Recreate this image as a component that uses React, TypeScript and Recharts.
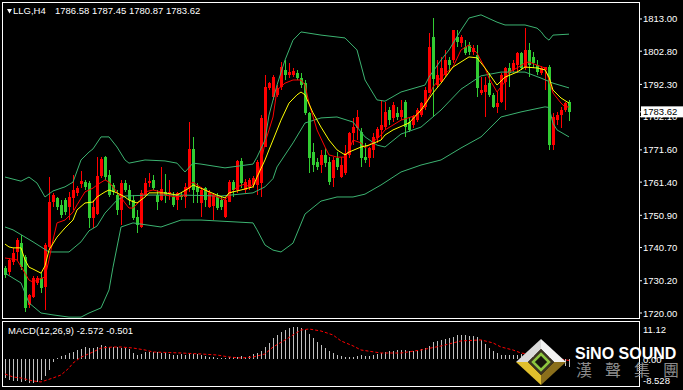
import { Bar, ComposedChart, Line, XAxis, YAxis } from "recharts";

const FONT = '"Liberation Sans", Arial, sans-serif';

// LLG H4 candles (oldest first)
const opens = [
  1734.2, 1733.0, 1736.1, 1739.3, 1742.1, 1737.7, 1722.5, 1725.1, 1729.5, 1731.1,
  1728.2, 1740.9, 1755.1, 1756.4, 1754.2, 1755.7, 1753.5, 1756.4, 1758.0, 1760.8,
  1761.4, 1761.1, 1750.0, 1751.3, 1763.3, 1769.3, 1763.6, 1760.5, 1757.3, 1752.6,
  1761.1, 1758.9, 1755.7, 1750.4, 1747.2, 1757.3, 1761.1, 1762.1, 1757.3, 1755.7,
  1758.3, 1757.6, 1756.7, 1755.7, 1757.3, 1756.7, 1759.5, 1771.9, 1759.9, 1754.8,
  1759.5, 1753.5, 1753.8, 1756.7, 1755.7, 1750.4, 1755.1, 1761.4, 1758.9, 1768.1,
  1758.9, 1759.9, 1760.5, 1760.5, 1761.1, 1772.5, 1791.2, 1788.3, 1789.0, 1791.5,
  1796.9, 1795.3, 1795.3, 1795.9, 1794.3, 1792.7, 1783.3, 1770.9, 1767.8, 1766.8,
  1770.0, 1767.8, 1762.7, 1769.0, 1763.0, 1764.3, 1770.0, 1776.9, 1778.5, 1777.2,
  1769.3, 1769.0, 1771.6, 1775.4, 1777.9, 1778.8, 1784.2, 1781.7, 1783.3, 1782.0,
  1786.7, 1780.4, 1779.5, 1781.0, 1782.6, 1785.2, 1789.6, 1807.3, 1792.1, 1793.1,
  1795.3, 1800.0, 1800.0, 1807.3, 1805.4, 1804.1, 1804.8, 1802.6, 1801.6, 1789.6,
  1789.9, 1792.7, 1789.0, 1785.2, 1786.7, 1793.1, 1797.5, 1796.9, 1798.4, 1802.2,
  1797.5, 1803.2, 1801.0, 1798.4, 1795.9, 1796.9, 1797.8, 1773.1, 1781.0, 1782.6,
  1784.2, 1786.58,
];
const highs = [
  1734.9, 1737.4, 1740.6, 1743.7, 1744.7, 1738.3, 1726.0, 1731.7, 1731.7, 1732.7,
  1742.1, 1763.0, 1758.0, 1756.7, 1755.7, 1756.4, 1758.3, 1763.6, 1760.2, 1764.9,
  1762.1, 1761.7, 1755.7, 1769.3, 1769.3, 1769.7, 1765.2, 1761.1, 1758.9, 1762.1,
  1762.1, 1760.5, 1757.3, 1752.6, 1758.9, 1762.7, 1764.3, 1763.6, 1758.9, 1766.2,
  1764.0, 1762.1, 1758.3, 1758.3, 1758.0, 1761.1, 1780.4, 1775.7, 1761.1, 1759.9,
  1759.9, 1758.9, 1758.0, 1758.0, 1756.7, 1756.7, 1762.1, 1762.1, 1768.4, 1769.0,
  1762.4, 1762.7, 1763.3, 1768.4, 1782.6, 1795.3, 1793.1, 1795.3, 1792.1, 1799.4,
  1800.0, 1799.1, 1797.5, 1796.9, 1795.9, 1793.7, 1783.6, 1773.8, 1769.0, 1771.6,
  1772.2, 1769.3, 1769.3, 1770.9, 1769.3, 1773.1, 1777.2, 1781.7, 1784.2, 1778.5,
  1773.8, 1772.5, 1776.9, 1778.8, 1787.4, 1786.7, 1785.2, 1786.7, 1785.2, 1787.4,
  1787.4, 1782.0, 1782.6, 1784.8, 1786.7, 1791.5, 1808.6, 1813.3, 1800.0, 1801.0,
  1803.2, 1801.0, 1809.5, 1809.5, 1807.9, 1806.3, 1805.7, 1804.8, 1804.8, 1794.6,
  1794.6, 1795.9, 1789.6, 1789.9, 1795.9, 1797.8, 1799.1, 1800.0, 1802.6, 1802.6,
  1810.1, 1805.4, 1802.6, 1800.0, 1798.1, 1797.8, 1798.4, 1783.3, 1783.6, 1785.2,
  1786.7, 1787.45,
];
const lows = [
  1731.1, 1732.0, 1735.2, 1736.8, 1733.6, 1720.3, 1721.6, 1724.7, 1728.9, 1726.3,
  1721.0, 1739.9, 1753.5, 1752.6, 1750.0, 1751.0, 1749.4, 1752.6, 1757.0, 1759.5,
  1758.9, 1746.9, 1746.9, 1751.0, 1762.7, 1762.1, 1756.7, 1757.3, 1751.0, 1747.8,
  1758.3, 1754.2, 1749.4, 1745.3, 1746.9, 1756.7, 1759.9, 1758.9, 1752.6, 1755.4,
  1754.8, 1755.7, 1753.5, 1752.6, 1755.7, 1753.2, 1758.3, 1754.8, 1754.8, 1750.4,
  1753.5, 1753.2, 1749.4, 1752.6, 1752.6, 1750.0, 1755.1, 1756.7, 1758.0, 1759.5,
  1758.0, 1758.9, 1759.5, 1757.3, 1756.7, 1772.5, 1790.5, 1787.4, 1788.3, 1790.5,
  1793.7, 1794.3, 1794.6, 1793.7, 1791.2, 1782.6, 1764.3, 1764.6, 1765.2, 1764.3,
  1766.2, 1760.5, 1759.9, 1765.2, 1762.7, 1763.6, 1769.0, 1773.1, 1774.7, 1766.2,
  1767.4, 1766.2, 1769.0, 1773.8, 1774.7, 1777.9, 1779.5, 1780.4, 1781.0, 1781.0,
  1775.7, 1777.2, 1778.5, 1780.4, 1782.0, 1784.2, 1789.6, 1782.0, 1791.5, 1792.7,
  1794.6, 1796.2, 1799.1, 1804.1, 1804.1, 1801.6, 1801.6, 1801.6, 1788.3, 1789.0,
  1782.0, 1788.3, 1784.8, 1783.3, 1786.4, 1784.2, 1791.5, 1796.2, 1795.9, 1796.9,
  1796.9, 1794.6, 1797.5, 1795.3, 1795.3, 1790.5, 1771.6, 1771.6, 1779.5, 1778.5,
  1783.6, 1780.87,
];
const closes = [
  1732.0, 1736.8, 1739.0, 1743.1, 1734.5, 1721.6, 1725.7, 1731.1, 1731.1, 1727.9,
  1741.5, 1755.1, 1757.3, 1753.5, 1751.0, 1751.9, 1756.7, 1758.9, 1759.5, 1761.7,
  1759.9, 1750.0, 1753.5, 1763.3, 1768.7, 1763.0, 1757.3, 1758.3, 1752.6, 1761.1,
  1758.9, 1755.7, 1750.0, 1747.8, 1758.0, 1761.1, 1761.7, 1759.5, 1755.1, 1759.2,
  1757.3, 1758.3, 1754.2, 1758.0, 1756.7, 1759.9, 1771.9, 1758.9, 1758.3, 1758.9,
  1755.7, 1758.0, 1757.3, 1753.2, 1753.5, 1755.7, 1761.4, 1758.9, 1768.1, 1761.1,
  1761.4, 1762.1, 1762.7, 1767.8, 1781.7, 1791.5, 1792.7, 1794.6, 1791.2, 1797.8,
  1795.3, 1796.2, 1796.5, 1794.3, 1792.1, 1783.3, 1769.0, 1766.8, 1766.2, 1770.0,
  1767.4, 1761.4, 1768.4, 1766.2, 1766.8, 1770.6, 1776.9, 1778.8, 1782.0, 1769.0,
  1768.4, 1772.2, 1775.7, 1778.2, 1779.5, 1783.6, 1781.0, 1785.8, 1782.0, 1784.2,
  1778.8, 1777.9, 1782.0, 1784.2, 1786.4, 1790.5, 1804.1, 1794.0, 1795.3, 1797.5,
  1800.0, 1798.4, 1809.5, 1805.7, 1807.3, 1802.2, 1802.6, 1803.8, 1791.2, 1790.5,
  1792.1, 1789.0, 1785.2, 1786.4, 1795.3, 1797.5, 1795.9, 1799.1, 1802.2, 1797.5,
  1803.2, 1798.4, 1799.1, 1796.2, 1797.5, 1797.8, 1773.1, 1782.0, 1782.6, 1784.2,
  1786.4, 1783.62,
];

// indicator lines, sampled as [bar index, value]
const bbUpper: [number, number][] = [
  [0, 1763.0], [4, 1761.7], [6, 1763.0], [8, 1761.1], [10, 1756.7], [12, 1758.6], [15, 1759.9],
  [17, 1761.4], [19, 1768.4], [21, 1770.9], [22, 1771.9], [24, 1775.7], [26, 1775.7], [28, 1772.5],
  [30, 1768.4], [31, 1767.4], [35, 1768.4], [40, 1768.1], [43, 1767.4], [45, 1764.6], [47, 1767.4],
  [49, 1767.1], [55, 1765.9], [62, 1767.1], [63, 1769.3], [65, 1774.7], [66, 1782.6], [68, 1792.1],
  [70, 1800.0], [72, 1806.3], [74, 1808.9], [79, 1807.9], [83, 1807.3], [85, 1807.0], [88, 1803.2],
  [90, 1793.7], [93, 1787.4], [95, 1787.0], [99, 1789.9], [105, 1792.1], [106, 1794.6], [109, 1800.0],
  [111, 1803.2], [114, 1809.5], [116, 1813.3], [119, 1814.3], [123, 1812.0], [125, 1811.1],
  [130, 1811.1], [133, 1810.1], [134, 1809.0], [135, 1807.3], [136, 1806.3], [137, 1807.9], [141, 1808.2],
];
const bbMiddle: [number, number][] = [
  [0, 1747.2], [2, 1746.3], [7, 1742.5], [11, 1739.3], [16, 1739.3], [19, 1742.5], [21, 1746.0],
  [23, 1747.5], [25, 1751.6], [28, 1755.7], [30, 1757.0], [36, 1757.3], [44, 1757.3], [54, 1757.0],
  [62, 1758.0], [65, 1759.9], [67, 1762.5], [68, 1766.2], [72, 1773.8], [75, 1780.1], [79, 1781.7],
  [83, 1782.0], [87, 1780.4], [90, 1775.7], [93, 1773.1], [95, 1772.5], [99, 1776.6], [104, 1778.8],
  [109, 1784.2], [114, 1790.8], [119, 1795.0], [124, 1796.2], [130, 1796.2], [134, 1794.3],
  [137, 1792.7], [141, 1791.2],
];
const bbLower: [number, number][] = [
  [0, 1732.6], [4, 1729.5], [6, 1723.2], [9, 1720.0], [12, 1719.4], [16, 1718.7], [19, 1718.7],
  [21, 1720.0], [24, 1721.6], [26, 1727.3], [27, 1734.5], [29, 1747.2], [32, 1748.5], [39, 1747.2],
  [44, 1749.4], [49, 1749.4], [62, 1748.5], [63, 1746.3], [65, 1741.5], [67, 1739.9], [69, 1739.3],
  [72, 1742.1], [75, 1751.3], [79, 1755.4], [83, 1756.7], [87, 1756.7], [90, 1757.6], [94, 1760.5],
  [99, 1764.6], [104, 1766.8], [109, 1768.4], [114, 1772.2], [119, 1775.7], [124, 1782.0],
  [129, 1783.6], [135, 1785.2], [136, 1785.0], [137, 1780.0], [138, 1777.9], [141, 1775.7],
];
const maFast: [number, number][] = [
  [0, 1737.4], [3, 1736.8], [5, 1732.6], [6, 1730.4], [7, 1729.8], [8, 1730.4], [10, 1731.4],
  [11, 1736.8], [12, 1743.1], [13, 1748.5], [15, 1749.4], [17, 1751.9], [18, 1754.2], [20, 1758.3],
  [22, 1759.5], [23, 1760.5], [25, 1762.1], [26, 1761.4], [28, 1758.3], [30, 1754.8], [31, 1753.2],
  [32, 1753.2], [34, 1755.7], [35, 1758.3], [37, 1758.9], [39, 1758.3], [40, 1757.3], [43, 1756.7],
  [45, 1757.3], [46, 1760.5], [47, 1761.4], [48, 1760.5], [50, 1758.9], [52, 1757.3], [55, 1755.7],
  [56, 1757.3], [58, 1759.9], [60, 1760.8], [61, 1759.9], [63, 1761.4], [64, 1767.4], [65, 1773.8],
  [67, 1782.0], [68, 1790.5], [70, 1792.7], [72, 1793.7], [74, 1793.7], [75, 1792.1], [76, 1786.4],
  [78, 1777.9], [80, 1772.5], [81, 1770.0], [83, 1769.3], [85, 1769.3], [86, 1771.6], [87, 1774.7],
  [89, 1773.8], [90, 1772.2], [92, 1774.1], [94, 1776.3], [95, 1777.9], [99, 1781.0], [103, 1782.6],
  [105, 1785.2], [107, 1791.5], [109, 1794.6], [112, 1797.8], [114, 1803.2], [116, 1804.8],
  [118, 1802.2], [120, 1797.5], [121, 1794.3], [123, 1789.9], [125, 1793.1], [126, 1796.2],
  [128, 1797.5], [130, 1799.1], [131, 1799.4], [133, 1798.4], [135, 1797.5], [136, 1793.7],
  [137, 1789.6], [139, 1786.4], [140, 1785.2], [141, 1785.2],
];
const maSlow: [number, number][] = [
  [0, 1741.8], [1, 1740.9], [2, 1740.6], [4, 1740.6], [5, 1736.8], [6, 1734.5], [7, 1733.9],
  [9, 1732.6], [10, 1734.9], [11, 1739.9], [13, 1744.0], [15, 1746.9], [17, 1749.4], [18, 1752.6],
  [20, 1754.8], [22, 1755.1], [23, 1756.7], [25, 1758.3], [26, 1758.9], [28, 1758.0], [30, 1756.7],
  [31, 1755.7], [33, 1754.8], [35, 1756.7], [36, 1758.0], [40, 1758.0], [43, 1757.3], [46, 1759.5],
  [47, 1760.5], [50, 1758.9], [53, 1757.3], [55, 1756.4], [56, 1758.0], [59, 1758.9], [62, 1759.9],
  [63, 1763.0], [65, 1768.4], [66, 1771.6], [67, 1774.7], [69, 1781.0], [71, 1786.4], [73, 1789.0],
  [74, 1789.9], [75, 1789.0], [77, 1783.3], [79, 1778.8], [81, 1774.7], [83, 1771.6], [85, 1770.0],
  [86, 1770.9], [89, 1772.5], [91, 1773.1], [94, 1774.7], [95, 1776.3], [97, 1777.9], [101, 1780.1],
  [104, 1784.2], [107, 1789.6], [109, 1792.7], [112, 1797.8], [116, 1801.0], [118, 1800.7],
  [120, 1797.5], [123, 1792.1], [125, 1794.6], [128, 1796.2], [130, 1797.8], [133, 1797.5],
  [135, 1796.9], [136, 1794.6], [137, 1790.5], [139, 1788.0], [141, 1786.4],
];

// MACD(12,26,9): main line per bar (histogram) and signal samples
const macdMain = [
  -5.8, -6.4, -6.7, -6.7, -7.0, -6.7, -7.3, -7.3, -7.0, -6.4,
  -5.2, -3.4, -1.0, 0.2, 0.85, 1.15, 1.75, 2.05, 2.66, 2.96,
  3.56, 3.26, 3.26, 3.56, 4.17, 3.87, 3.56, 3.56, 3.56, 3.26,
  3.26, 2.96, 1.75, 1.15, 1.45, 2.05, 2.05, 2.05, 2.05, 1.75,
  1.75, 1.45, 1.15, 1.15, 1.45, 1.15, 1.75, 1.45, 1.45, 1.15,
  0.85, 0.54, 0.54, 0.24, 0.2, 0.2, 0.54, 0.54, 0.54, 0.85,
  0.54, 0.85, 1.45, 1.75, 2.36, 3.56, 4.77, 6.28, 7.19, 8.1,
  8.7, 9.3, 9.61, 9.61, 9.3, 8.7, 7.49, 6.28, 5.08, 4.17,
  3.26, 2.36, 1.75, 1.15, 0.85, 0.54, 0.54, 0.54, 0.85, 1.15,
  0.85, 0.85, 1.15, 1.45, 1.75, 2.05, 2.36, 2.36, 2.66, 2.66,
  2.66, 2.36, 2.36, 2.66, 2.96, 3.26, 3.87, 5.08, 5.38, 5.68,
  5.98, 6.28, 6.59, 7.19, 7.19, 7.19, 6.89, 6.89, 6.59, 5.68,
  4.47, 3.26, 2.36, 1.75, 1.15, 1.15, 1.15, 1.15, 1.15, 1.45,
  1.45, 1.45, 1.45, 1.15, 1.15, 0.85, 0.85, -0.4, -1.3, -1.9,
  -2.3, -2.572,
];
const macdSignal: [number, number][] = [
  [0, -4.6], [2, -5.5], [4, -5.8], [7, -6.7], [9, -7.0], [12, -5.8], [14, -4.9], [16, -2.8],
  [17, -1.3], [19, 0.5], [22, 2.05], [24, 3.26], [27, 3.56], [29, 3.56], [32, 3.26], [35, 2.66],
  [37, 2.05], [44, 1.75], [49, 1.45], [53, 1.15], [56, 0.54], [59, 0.24], [62, 0.54], [65, 1.45],
  [67, 3.56], [70, 5.67], [72, 7.2], [74, 8.7], [76, 9.0], [79, 8.4], [82, 7.2], [84, 5.4],
  [87, 3.9], [89, 2.66], [94, 1.75], [99, 1.75], [104, 2.66], [109, 3.87], [114, 5.4], [119, 5.7],
  [122, 4.8], [124, 3.56], [127, 2.66], [129, 1.75], [134, 0.85], [141, -0.501],
];

const priceTicks = [1813.0, 1802.8, 1792.3, 1782.1, 1771.6, 1761.4, 1750.9, 1740.7, 1730.2, 1720.0];
const macdTicks = [11.12, 0, -8.528];

const EMPTY_BARS = 17; // free space MT4 leaves right of the last candle
const LAST = closes.length - 1;
const LAST_CLOSE = closes[LAST];

type Row = { i: number; [key: string]: number | undefined };

const rows: Row[] = Array.from({ length: opens.length + EMPTY_BARS }, (_, i) => ({
  i,
  open: opens[i],
  high: highs[i],
  low: lows[i],
  close: closes[i],
  macd: macdMain[i],
}));
const place = (key: string, pts: [number, number][]) =>
  pts.forEach(([i, v]) => {
    rows[i][key] = v;
  });
place("bbU", bbUpper);
place("bbM", bbMiddle);
place("bbL", bbLower);
place("fast", maFast);
place("slow", maSlow);
place("sig", macdSignal);

function Candle(props: any) {
  const { x, y, width, height, payload } = props;
  if (payload.open == null || height == null) return null;
  const { open, high, low, close } = payload;
  const top0 = Math.min(y, y + height);
  const h = Math.abs(height);
  const k = high > low ? h / (high - low) : 0;
  const cx = Math.floor(x + width / 2);
  const color = close >= open ? "#FF0000" : "#32CD32";
  const bodyTop = top0 + (high - Math.max(open, close)) * k;
  const bodyH = Math.max(1, Math.abs(close - open) * k);
  return (
    <g shapeRendering="crispEdges">
      <rect x={cx} y={top0} width={1} height={Math.max(1, h)} fill={color} />
      <rect x={cx - 1} y={bodyTop} width={3} height={bodyH} fill={color} />
    </g>
  );
}

function MacdBar(props: any) {
  const { x, y, width, height } = props;
  if (height == null || isNaN(height)) return null;
  const top = Math.min(y, y + height);
  return (
    <rect
      x={Math.floor(x + width / 2)}
      y={top}
      width={1}
      height={Math.max(1, Math.abs(height))}
      fill="#C0C0C0"
      shapeRendering="crispEdges"
    />
  );
}

function PriceTick(props: any) {
  const { x, y, payload } = props;
  const v: number = payload.value;
  if (v === LAST_CLOSE) {
    return (
      <g>
        <rect x={x - 2} y={y - 5.5} width={44} height={11} fill="#fff" />
        <text x={x} y={y + 3.5} fill="#000" fontSize={9.5} fontFamily={FONT}>
          {v.toFixed(2)}
        </text>
      </g>
    );
  }
  return (
    <text x={x} y={y + 3.5} fill="#fff" fontSize={9.5} fontFamily={FONT}>
      {v.toFixed(2)}
    </text>
  );
}

function MacdTick(props: any) {
  const { x, y, payload } = props;
  const v: number = payload.value;
  // MT4 keeps the max/min labels inside the window
  const dy = v > 0 ? 11 : v < 0 ? -3 : 4;
  return (
    <text x={x} y={y + dy} fill="#fff" fontSize={9.5} fontFamily={FONT}>
      {v === 0 ? "0.00" : String(v)}
    </text>
  );
}

function Watermark() {
  return (
    <svg width={683} height={390} style={{ position: "absolute", left: 0, top: 0, pointerEvents: "none" }}>
      <polygon points="516,362 541,339 541,349 528,362" fill="#d9d9d9" />
      <polygon points="541,339 566,362 554,362 541,349" fill="#f2f2f2" />
      <polygon points="566,362 541,385 541,375 554,362" fill="#8a6f1c" />
      <polygon points="541,385 516,362 528,362 541,375" fill="#e0bf2c" />
      <polygon points="541,349 554,362 541,375 528,362" fill="#3a3320" />
      <polygon points="541,354 549,362 541,370 533,362" fill="#15140c" stroke="#8dc63f" strokeWidth={2.5} />
      <text x={575} y={359} fill="#fff" fontSize={16} fontWeight="bold" fontFamily={FONT}>
        SiNO SOUND
      </text>
      {["漢", "聲", "集", "團"].map((ch, k) => (
        <text key={ch} x={576 + k * 29} y={376} fill="#8c8c8c" fontSize={16} fontFamily='"Noto Sans CJK TC", sans-serif'>
          {ch}
        </text>
      ))}
    </svg>
  );
}

const txt = { position: "absolute" as const, fontSize: 9.5, lineHeight: "11px", whiteSpace: "pre" as const, color: "#fff" };

export default function App() {
  const ohlcText = [opens[LAST], highs[LAST], lows[LAST], closes[LAST]].map((v) => v.toFixed(2)).join(" ");
  const macdText = `MACD(12,26,9) ${macdMain[LAST].toFixed(3)} ${macdSignal[macdSignal.length - 1][1].toFixed(3)}`;
  return (
    <div
      style={{
        position: "fixed",
        left: 0,
        top: 0,
        width: 683,
        height: 390,
        background: "#000",
        overflow: "hidden",
        fontFamily: FONT,
      }}
    >
      <div style={{ position: "absolute", left: 2, top: 2, width: 638, height: 317, border: "1px solid #fff", boxSizing: "border-box" }} />
      <div style={{ position: "absolute", left: 2, top: 321, width: 638, height: 66, border: "1px solid #fff", boxSizing: "border-box" }} />

      <div style={{ position: "absolute", left: 0, top: 0 }}>
        <ComposedChart width={683} height={320} data={rows} margin={{ top: 3, right: 0, bottom: 2, left: 3 }}>
          <XAxis dataKey="i" hide />
          <YAxis
            orientation="right"
            width={44}
            domain={[1718.42, 1818.05]}
            allowDataOverflow
            ticks={[...priceTicks, LAST_CLOSE]}
            interval={0}
            tick={(p: any) => <PriceTick {...p} />}
            tickSize={3}
            tickMargin={1}
            tickLine={{ stroke: "#fff" }}
            axisLine={false}
          />
          <Bar
            dataKey={(d: Row) => (d.high == null ? null : [d.low, d.high])}
            barSize={3}
            shape={(p: any) => <Candle {...p} />}
            isAnimationActive={false}
          />
          <Line dataKey="bbU" stroke="#3CB371" strokeWidth={1} dot={false} activeDot={false} connectNulls isAnimationActive={false} />
          <Line dataKey="bbM" stroke="#3CB371" strokeWidth={1} dot={false} activeDot={false} connectNulls isAnimationActive={false} />
          <Line dataKey="bbL" stroke="#3CB371" strokeWidth={1} dot={false} activeDot={false} connectNulls isAnimationActive={false} />
          <Line dataKey="fast" stroke="#FF0000" strokeWidth={1} dot={false} activeDot={false} connectNulls isAnimationActive={false} />
          <Line dataKey="slow" stroke="#FFFF00" strokeWidth={1} dot={false} activeDot={false} connectNulls isAnimationActive={false} />
        </ComposedChart>
      </div>

      <div style={{ position: "absolute", left: 0, top: 319 }}>
        <ComposedChart width={683} height={71} data={rows} margin={{ top: 3, right: 0, bottom: 3, left: 3 }}>
          <XAxis dataKey="i" hide />
          <YAxis
            orientation="right"
            width={44}
            domain={[-8.528, 11.12]}
            allowDataOverflow
            ticks={macdTicks}
            interval={0}
            tick={(p: any) => <MacdTick {...p} />}
            tickSize={3}
            tickMargin={1}
            tickLine={false}
            axisLine={false}
          />
          <Bar dataKey="macd" barSize={1} shape={(p: any) => <MacdBar {...p} />} isAnimationActive={false} />
          <Line
            dataKey="sig"
            stroke="#FF0000"
            strokeWidth={1}
            strokeDasharray="3 2"
            dot={false}
            activeDot={false}
            connectNulls
            isAnimationActive={false}
          />
        </ComposedChart>
      </div>

      <svg width={20} height={20} style={{ position: "absolute", left: 0, top: 0 }}>
        <polygon points="7,9 12,9 9.5,13.5" fill="#fff" />
      </svg>
      <div style={{ ...txt, left: 13, top: 5 }}>LLG,H4</div>
      <div style={{ ...txt, left: 55, top: 5 }}>{ohlcText}</div>
      <div style={{ ...txt, left: 8, top: 325 }}>{macdText}</div>

      <Watermark />
    </div>
  );
}
